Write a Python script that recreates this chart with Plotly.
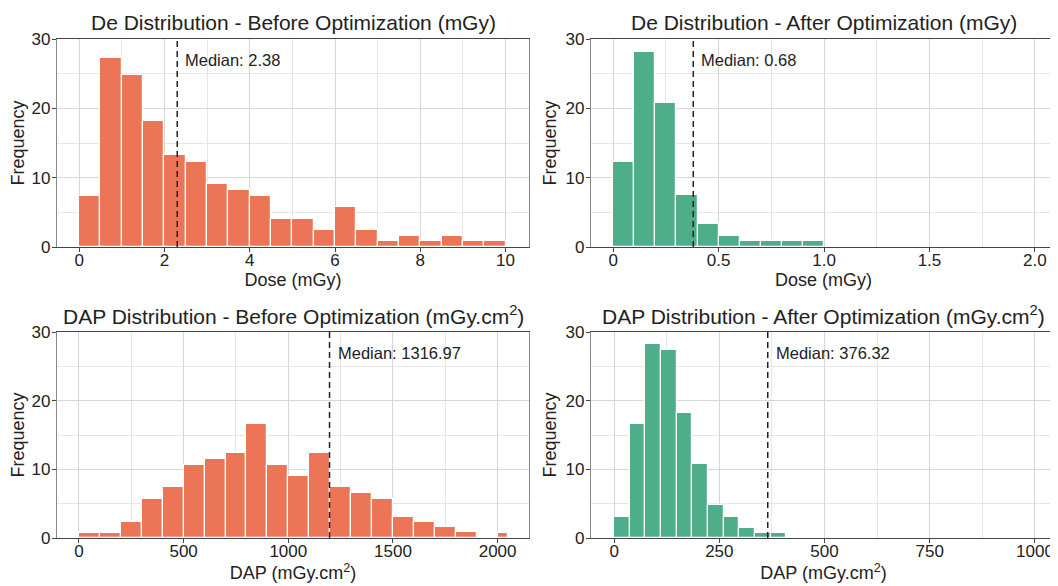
import plotly.graph_objects as go
from plotly.subplots import make_subplots

# ---------------- data ----------------
de_before_bin_starts = [0.0, 0.5, 1.0, 1.5, 2.0, 2.5, 3.0, 3.5, 4.0, 4.5,
                        5.0, 5.5, 6.0, 6.5, 7.0, 7.5, 8.0, 8.5, 9.0, 9.5]
de_before_bin_widths = [0.5] * 20
de_before_counts = [7.4, 27.3, 24.8, 18.2, 13.2, 12.3, 9.1, 8.2, 7.4, 4.0,
                    4.0, 2.4, 5.7, 2.4, 0.8, 1.6, 0.8, 1.6, 0.8, 0.8]

de_after_bin_starts = [0.0, 0.1, 0.2, 0.3, 0.4, 0.5, 0.6, 0.7, 0.8, 0.9]
de_after_bin_widths = [0.1] * 10
de_after_counts = [12.3, 28.1, 20.8, 7.5, 3.3, 1.6, 0.8, 0.8, 0.8, 0.8]

dap_before_bin_starts = [0, 100, 200, 300, 400, 500, 600, 700, 800, 900, 1000,
                         1100, 1200, 1300, 1400, 1500, 1600, 1700, 1800, 1900, 2000]
dap_before_bin_widths = [100] * 20 + [50]
dap_before_counts = [0.8, 0.8, 2.4, 5.7, 7.4, 10.7, 11.5, 12.4, 16.6, 10.7, 9.1,
                     12.4, 7.4, 6.5, 5.7, 3.1, 2.4, 1.6, 0.9, 0.0, 0.7]

dap_after_bin_starts = [0, 37.2, 74.4, 111.6, 148.8, 186.0, 223.2, 260.4, 297.6, 334.8, 372.0]
dap_after_bin_widths = [37.2] * 11
dap_after_counts = [3.1, 16.6, 28.3, 27.4, 18.2, 10.8, 4.8, 3.1, 1.5, 0.8, 0.8]

median_line_pos = [2.3, 0.38, 1197, 365]
median_labels = ["Median: 2.38", "Median: 0.68", "Median: 1316.97", "Median: 376.32"]

titles = ["De Distribution - Before Optimization (mGy)",
          "De Distribution - After Optimization (mGy)",
          "DAP Distribution - Before Optimization (mGy.cm<sup>2</sup>)",
          "DAP Distribution - After Optimization (mGy.cm<sup>2</sup>)"]
x_titles = ["Dose (mGy)", "Dose (mGy)", "DAP (mGy.cm<sup>2</sup>)", "DAP (mGy.cm<sup>2</sup>)"]

ORANGE = "#EC7558"
GREEN = "#4DAE89"
FONT = "Liberation Sans, Arial, sans-serif"

panels = [
    (de_before_bin_starts, de_before_bin_widths, de_before_counts, ORANGE,
     [-0.52, 10.55], [0, 2, 4, 6, 8, 10], ["0", "2", "4", "6", "8", "10"], 1),
    (de_after_bin_starts, de_after_bin_widths, de_after_counts, GREEN,
     [-0.105, 2.1], [0, 0.5, 1.0, 1.5, 2.0], ["0", "0.5", "1.0", "1.5", "2.0"], 0.25),
    (dap_before_bin_starts, dap_before_bin_widths, dap_before_counts, ORANGE,
     [-105, 2150], [0, 500, 1000, 1500, 2000], ["0", "500", "1000", "1500", "2000"], 250),
    (dap_after_bin_starts, dap_after_bin_widths, dap_after_counts, GREEN,
     [-55, 1050], [0, 250, 500, 750, 1000], ["0", "250", "500", "750", "1000"], 125),
]

W, H = 1058, 586
OFF = 8  # the page body adds an 8px offset
col_dom = [[(57 - OFF) / W, (529 - OFF) / W], [(591 - OFF) / W, (1056 - OFF) / W]]
row_dom = [[1 - (247 - OFF) / H, 1 - (39 - OFF) / H], [1 - (538 - OFF) / H, 1 - (332 - OFF) / H]]
title_y = [1 - (22 - OFF) / H, 1 - (315 - OFF) / H]

fig = make_subplots(rows=2, cols=2)

for i, (starts, widths, counts, color, xr, tv, tt, minor_dt) in enumerate(panels):
    r, c = i // 2 + 1, i % 2 + 1
    fig.add_trace(go.Bar(x=starts, y=counts, width=widths, offset=0,
                         marker=dict(color=color, line=dict(color="white", width=1.2)),
                         showlegend=False), row=r, col=c)
    ax = "" if i == 0 else str(i + 1)
    fig.add_shape(type="line", xref="x" + ax, yref="y" + ax,
                  x0=median_line_pos[i], x1=median_line_pos[i], y0=0, y1=30,
                  line=dict(color="#222", width=1.5, dash="6px,4px"))
    fig.add_annotation(xref="x" + ax, yref="y" + ax, x=median_line_pos[i], y=26.9,
                       text=median_labels[i], showarrow=False, xanchor="left",
                       xshift=6, font=dict(size=16.5, color="#222", family=FONT))
    fig.add_annotation(xref="paper", yref="paper",
                       x=(col_dom[c - 1][0] + col_dom[c - 1][1]) / 2, y=title_y[r - 1],
                       text=titles[i], showarrow=False, xanchor="center", yanchor="middle",
                       font=dict(size=21, color="#222", family=FONT))
    fig.update_xaxes(row=r, col=c, domain=col_dom[c - 1], range=xr, automargin=False,
                     tickmode="array", tickvals=tv, ticktext=tt,
                     showgrid=True, gridcolor="#d6d6d6", gridwidth=1,
                     minor=dict(showgrid=True, dtick=minor_dt, tick0=0, gridcolor="#e6e6e6"),
                     showline=True, linecolor="#444", linewidth=1.3, mirror=True,
                     ticks="outside", ticklen=4, tickcolor="#444", ticklabelstandoff=-7,
                     tickfont=dict(size=17, color="#222", family=FONT),
                     title=dict(text=x_titles[i], standoff=2,
                                font=dict(size=18, color="#222", family=FONT)),
                     zeroline=False)
    fig.update_yaxes(row=r, col=c, domain=row_dom[r - 1], range=[0, 30], automargin=False,
                     tickmode="array", tickvals=[0, 10, 20, 30],
                     showgrid=True, gridcolor="#d6d6d6", gridwidth=1,
                     minor=dict(showgrid=True, dtick=5, tick0=0, gridcolor="#e6e6e6"),
                     showline=True, linecolor="#888", linewidth=1.3, mirror=True,
                     ticks="outside", ticklen=4, tickcolor="#444", ticklabelstandoff=-2,
                     tickfont=dict(size=17, color="#222", family=FONT),
                     title=dict(text="Frequency", standoff=4,
                                font=dict(size=18, color="#222", family=FONT)),
                     zeroline=False)

fig.update_layout(width=W, height=H, margin=dict(l=0, r=0, t=0, b=0, autoexpand=False),
                  paper_bgcolor="white", plot_bgcolor="white", bargap=0,
                  font=dict(family=FONT, color="#222"))

fig.write_html("out.html")
